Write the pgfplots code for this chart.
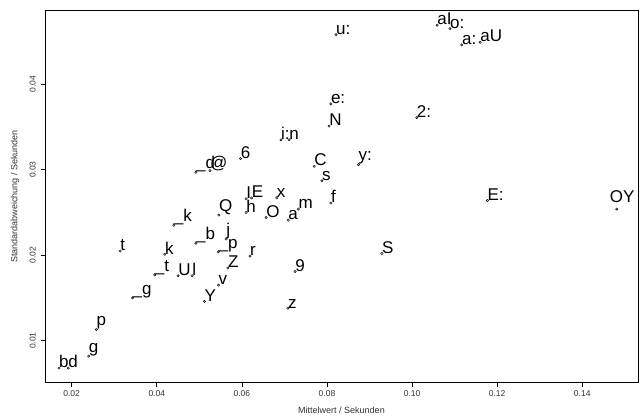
\documentclass[border=0pt]{standalone}
\usepackage{fontspec}
\setmainfont{Liberation Sans}
\usepackage{pgfplots}
\usepackage{pgfplotstable}
\pgfplotsset{compat=1.18}
\definecolor{dotgray}{HTML}{BEBEBE}
\definecolor{axgray}{HTML}{333333}
\pgfplotstableread{
x y label
0.0170 0.0068 b
0.0192 0.0068 d
0.0240 0.0082 g
0.0258 0.0113 p
0.0343 0.0150 \_g
0.0314 0.0205 t
0.0419 0.0201 k
0.0440 0.0235 \_k
0.0395 0.0177 \_t
0.0450 0.0176 U
0.0483 0.0176 l
0.0492 0.0214 \_b
0.0546 0.0247 Q
0.0563 0.0219 j
0.0545 0.0204 \_p
0.0567 0.0185 Z
0.0545 0.0165 v
0.0512 0.0146 Y
0.0619 0.0199 r
0.0725 0.0181 9
0.0708 0.0138 z
0.0492 0.0297 \_d
0.0525 0.0299 @
0.0597 0.0313 6
0.0610 0.0266 I
0.0623 0.0267 E
0.0682 0.0267 x
0.0610 0.0250 h
0.0657 0.0244 O
0.0709 0.0241 a
0.0733 0.0254 m
0.0809 0.0261 f
0.0770 0.0304 C
0.0788 0.0287 s
0.0874 0.0306 y:
0.0929 0.0202 S
0.0692 0.0335 i:
0.0711 0.0335 n
0.0805 0.0351 N
0.0809 0.0377 e:
0.0821 0.0458 u:
0.1011 0.0361 2:
0.1059 0.0469 aI
0.1089 0.0465 o:
0.1117 0.0446 a:
0.1160 0.0449 aU
0.1177 0.0264 E:
}\phon
\pgfplotstableread{
x y label
0.1481 0.0254 OY
}\phonoy
\begin{document}
\begin{tikzpicture}
\path[use as bounding box] (-45pt,-34.3pt) rectangle (595pt,382.7pt);
\begin{axis}[
  scale only axis, width=593pt, height=372.7pt,
  xmin=0.01373, xmax=0.1531, ymin=0.00509, ymax=0.04868,
  axis line style={black, line width=0.9pt},
  xtick={0.02,0.04,0.06,0.08,0.10,0.12,0.14},
  ytick={0.01,0.02,0.03,0.04},
  xtick pos=bottom, ytick pos=left, tick align=outside, major tick length=4pt,
  tick style={black, line width=0.6pt},
  scaled ticks=false,
  /pgf/number format/.cd, fixed, fixed zerofill, precision=2, assume math mode=true, /pgfplots/.cd,
  ticklabel style={font=\fontsize{8.5}{10}\selectfont, text=axgray},
  yticklabel style={rotate=90, anchor=south, inner ysep=5pt},
  xlabel={Mittelwert / Sekunden},
  ylabel={Standardabweichung / Sekunden},
  every axis x label/.style={at={(axis description cs:0.5,0)}, anchor=center, yshift=-28pt, font=\fontsize{9}{11}\selectfont, text=axgray},
  every axis y label/.style={at={(axis description cs:0,0.5)}, anchor=center, rotate=90, yshift=30pt, font=\fontsize{9}{11}\selectfont, text=axgray},
  nodes near coords, point meta=explicit symbolic,
  every node near coord/.append style={anchor=south west, inner sep=0pt, font=\fontsize{17}{19}\selectfont, text=black},
]
\addplot[only marks, mark=*, mark size=1.2pt, mark options={draw=none, fill=dotgray}] table[x=x, y=y, meta=label] {\phon};
\addplot[only marks, mark=*, mark size=1.2pt, mark options={draw=none, fill=dotgray},
  nodes near coords style={xshift=-7pt, yshift=6pt}] table[x=x, y=y, meta=label] {\phonoy};
\end{axis}
\end{tikzpicture}
\end{document}
